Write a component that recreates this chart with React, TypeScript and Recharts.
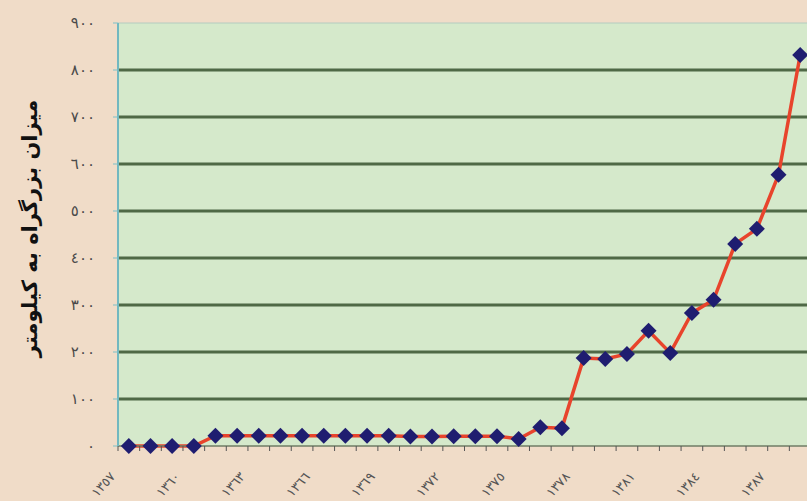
import {
  ComposedChart,
  Line,
  XAxis,
  YAxis,
  ReferenceLine,
  ReferenceArea,
} from "recharts";

// سال‌ها (برچسب محور افقی)
const years = [
  "١٣٥٧", "١٣٥٨", "١٣٥٩", "١٣٦٠", "١٣٦١", "١٣٦٢", "١٣٦٣", "١٣٦٤",
  "١٣٦٥", "١٣٦٦", "١٣٦٧", "١٣٦٨", "١٣٦٩", "١٣٧٠", "١٣٧١", "١٣٧٢",
  "١٣٧٣", "١٣٧٤", "١٣٧٥", "١٣٧٦", "١٣٧٧", "١٣٧٨", "١٣٧٩", "١٣٨٠",
  "١٣٨١", "١٣٨٢", "١٣٨٣", "١٣٨٤", "١٣٨٥", "١٣٨٦", "١٣٨٧", "١٣٨٨",
];

// میزان بزرگراه (کیلومتر)
const highwayKm = [
  0, 0, 0, 0, 22, 22, 22, 22,
  22, 22, 22, 22, 22, 20, 20, 21,
  21, 21, 15, 40, 38, 187, 185, 196,
  245, 198, 283, 311, 430, 462, 577, 832,
];

const yTicks = [0, 100, 200, 300, 400, 500, 600, 700, 800, 900];
const yTickLabels = ["٠", "١٠٠", "٢٠٠", "٣٠٠", "٤٠٠", "٥٠٠", "٦٠٠", "٧٠٠", "٨٠٠", "٩٠٠"];
const gridValues = [100, 200, 300, 400, 500, 600, 700, 800];
const labelEvery = 3;

const data = years.map((year, i) => ({ idx: i, year, km: highwayKm[i] }));

// tick marks sit between categories, labels under every 3rd point
const labelTicks = years.map((_, i) => i).filter((i) => i % labelEvery === 0);
const markTicks = [...years.map((_, i) => i - 0.5), years.length - 0.5];
const xTicks = [...markTicks, ...labelTicks].sort((a, b) => a - b);

const FONT = "'DejaVu Sans', sans-serif";

const XTick = (props: any) => {
  const { x, y, payload } = props;
  const v = payload.value as number;
  if (!Number.isInteger(v)) {
    return <line x1={x} x2={x} y1={y} y2={y + 5} stroke="#555" strokeWidth={1} />;
  }
  return (
    <g transform={`translate(${x - 13},${y + 31})`}>
      <text
        x={0}
        y={0}
        textAnchor="end"
        transform="rotate(-48)"
        fontSize={13}
        letterSpacing={1}
        fill="#555"
        fontFamily={FONT}
      >
        {years[v]}
      </text>
    </g>
  );
};

const Diamond = (props: any) => {
  const { cx, cy, index } = props;
  if (cx == null || cy == null) return <g key={index} />;
  const r = 8;
  return (
    <polygon
      key={index}
      points={`${cx},${cy - r} ${cx + r},${cy} ${cx},${cy + r} ${cx - r},${cy}`}
      fill="#1f1d70"
    />
  );
};

const YLabel = (props: any) => {
  const { viewBox } = props;
  const x = viewBox.x + 30;
  const y = viewBox.y + viewBox.height / 2 - 6;
  return (
    <text
      x={x}
      y={y}
      transform={`rotate(-90, ${x}, ${y})`}
      textAnchor="middle"
      dominantBaseline="central"
      fontSize={21}
      fontWeight="bold"
      fill="#111"
      fontFamily={FONT}
    >
      میزان بزرگراه به کیلومتر
    </text>
  );
};

export default function App() {
  return (
    <div
      style={{
        position: "fixed",
        left: 0,
        top: 0,
        width: 807,
        height: 501,
        overflow: "hidden",
        background: "#f0dcc8",
      }}
    >
      <ComposedChart
        width={815}
        height={501}
        data={data}
        margin={{ top: 23, right: 4, left: 0, bottom: 15 }}
      >
        <ReferenceArea y1={0} y2={900} fill="#d5e9cb" fillOpacity={1} stroke="none" />
        {gridValues.map((v) => (
          <ReferenceLine key={v} y={v} stroke="#4f6946" strokeWidth={3} />
        ))}
        <ReferenceLine y={900} stroke="#b4ccc0" strokeWidth={1} />
        <XAxis
          dataKey="idx"
          type="number"
          domain={[-0.5, years.length - 0.5]}
          ticks={xTicks}
          interval={0}
          tick={<XTick />}
          tickLine={false}
          tickSize={0}
          tickMargin={0}
          height={40}
          axisLine={{ stroke: "#6f7d66", strokeWidth: 1.5 }}
        />
        <YAxis
          type="number"
          domain={[0, 900]}
          ticks={yTicks}
          interval={0}
          width={118}
          tickSize={5}
          tickMargin={18}
          tickFormatter={(v: number) => yTickLabels[yTicks.indexOf(v)]}
          tick={{ fontSize: 15, fill: "#4a4a4a", fontFamily: FONT, letterSpacing: 2.5 }}
          tickLine={{ stroke: "#7cc0c8" }}
          axisLine={{ stroke: "#72b8c0", strokeWidth: 2 }}
          label={<YLabel />}
        />
        <Line
          type="linear"
          dataKey="km"
          stroke="#e8442c"
          strokeWidth={3.5}
          dot={<Diamond />}
          activeDot={false}
          isAnimationActive={false}
        />
      </ComposedChart>
    </div>
  );
}
